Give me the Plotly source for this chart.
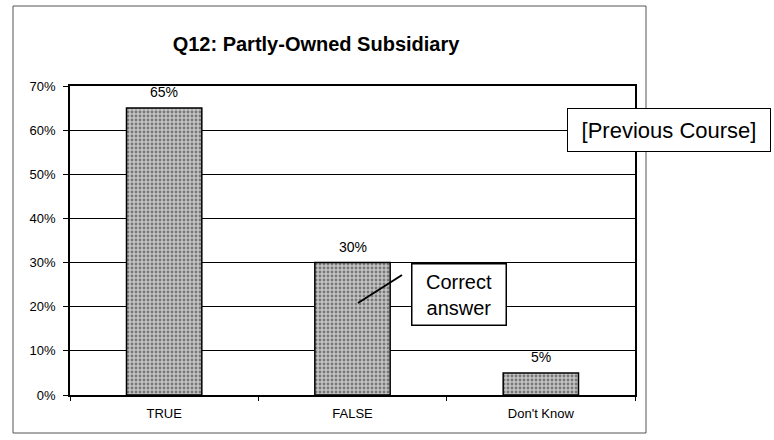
import plotly.graph_objects as go

categories = ["TRUE", "FALSE", "Don't Know"]
values = [0.65, 0.30, 0.05]
value_labels = ["65%", "30%", "5%"]
title_text = "Q12: Partly-Owned Subsidiary"
y_ticks = [0, 0.1, 0.2, 0.3, 0.4, 0.5, 0.6, 0.7]
y_tick_labels = ["0%", "10%", "20%", "30%", "40%", "50%", "60%", "70%"]

W, H = 774, 440
L, R, T, B = 70, 635, 86, 395  # plot area in pixels
FONT = "Liberation Sans, Arial"


def px(x):
    return (x - L) / (R - L)


def py(y):
    return (B - y) / (B - T)


fig = go.Figure()
fig.add_trace(go.Bar(
    x=categories, y=values,
    marker=dict(
        color="#a8a8a8",
        line=dict(color="black", width=1.5),
        pattern=dict(shape=".", fgcolor="#2a2a2a", bgcolor="#c4c4c4", size=4, solidity=0.4),
    ),
    width=0.4,
    hoverinfo="skip",
))

annotations = []
for c, v, t in zip(categories, values, value_labels):
    annotations.append(dict(
        x=c, y=v, xref="x", yref="y", text=t, showarrow=False,
        yanchor="bottom", yshift=6,
        font=dict(family=FONT, size=14, color="black"),
    ))

annotations.append(dict(
    x=px(669), y=py(130), xref="paper", yref="paper",
    text="[Previous Course]", showarrow=False,
    font=dict(family=FONT, size=22, color="black"),
    bgcolor="white", bordercolor="black", borderwidth=1, borderpad=3,
    width=196, height=36, xanchor="center", yanchor="middle",
))
annotations.append(dict(
    x=px(459), y=py(294), xref="paper", yref="paper",
    text="Correct<br>answer", showarrow=False,
    font=dict(family=FONT, size=20, color="black"),
    bgcolor="white", bordercolor="black", borderwidth=1.5, borderpad=2,
    width=89, height=56, xanchor="center", yanchor="middle",
))

shapes = [
    dict(type="rect", xref="paper", yref="paper",
         x0=px(13), x1=px(646), y0=py(433), y1=py(6),
         line=dict(color="#555", width=1), layer="below"),
    dict(type="line", xref="paper", yref="paper",
         x0=px(402), y0=py(275), x1=px(358), y1=py(303),
         line=dict(color="black", width=2)),
]

fig.update_layout(
    width=W, height=H,
    margin=dict(l=L, r=W - R, t=T, b=H - B),
    paper_bgcolor="white", plot_bgcolor="white",
    showlegend=False,
    title=dict(text="<b>" + title_text + "</b>", x=px(316), xref="paper", xanchor="center",
               y=1 - 44 / H, yanchor="middle",
               font=dict(family=FONT, size=20, color="black")),
    font=dict(family=FONT, color="black"),
    bargap=0.6,
    annotations=annotations,
    shapes=shapes,
)
fig.update_yaxes(
    range=[0, 0.7], tickvals=y_ticks, ticktext=y_tick_labels,
    showgrid=True, gridcolor="black", gridwidth=1.2,
    showline=True, linecolor="black", linewidth=1.5, mirror=True,
    ticks="outside", ticklen=5, tickcolor="black", ticklabelstandoff=5,
    tickfont=dict(family=FONT, size=13, color="black"), zeroline=False, fixedrange=True,
)
fig.update_xaxes(
    showline=True, linecolor="black", linewidth=1.5, mirror=True,
    ticks="outside", tickson="boundaries", ticklen=4, tickcolor="black", ticklabelstandoff=6,
    tickfont=dict(family=FONT, size=13, color="black"), fixedrange=True,
)
fig.write_html("out.html")
